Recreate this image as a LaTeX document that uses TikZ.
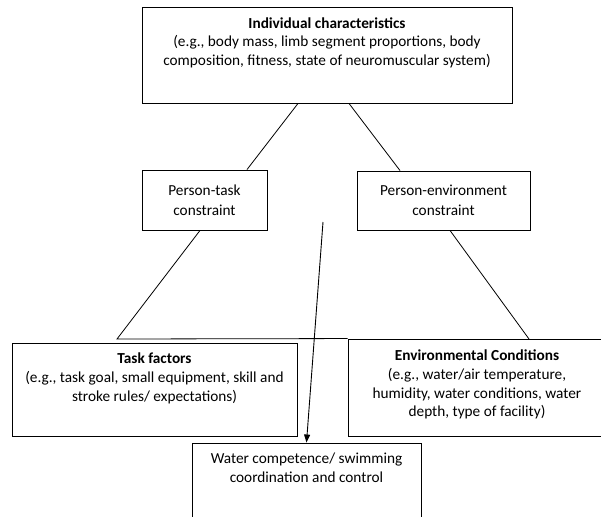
\documentclass[tikz,border=0pt]{standalone}
\usepackage{fontspec}
\setmainfont{Carlito}
\usepackage{tikz}
\usepgflibrary{arrows.meta}
\usetikzlibrary{calc}

\begin{document}
\begin{tikzpicture}[
        x=1pt, y=-1pt,
        box/.style={
                draw,
                line width=0.9pt,
                inner sep=0pt,
                align=center,
                font=\fontsize{15.3}{19.5}\selectfont
            },
        txt/.style={
                anchor=north,
                align=center,
                inner sep=0pt,
                font=\fontsize{15.3}{18.8}\selectfont
            },
        link/.style={
                line width=0.8pt
            },
        dep arrow/.style={
                arrows = {-Triangle[length=8pt,width=6pt]},
                line width=0.9pt
            }]
        \useasboundingbox (0,0) rectangle (601,516);

        % boxes
        \node [box, minimum width=370pt, minimum height=96pt] (indiv) at (327,55) {};
        \node [box, minimum width=125pt, minimum height=60pt] (ptask) at (204.5,200) {Person-task\\constraint};
        \node [box, minimum width=173pt, minimum height=59pt] (penv) at (443.5,200.5) {Person-environment\\constraint};
        \node [box, minimum width=285pt, minimum height=93pt] (task) at (154.5,389.5) {};
        \node [box, minimum width=258pt, minimum height=97pt] (env) at (477,387.5) {};
        \node [box, minimum width=229pt, minimum height=90pt] (water) at (306.5,488) {};

        % texts
        \node [txt] (indivtxt) at ($(indiv.north)+(0,10.5)$) {\textbf{Individual characteristics}\\(e.g., body mass, limb segment proportions, body\\composition, fitness, state of neuromuscular system)};
        \node [txt] (tasktxt) at ($(task.north)+(0,10)$) {\textbf{Task factors}\\(e.g., task goal, small equipment, skill and\\stroke rules/ expectations)};
        \node [txt] (envtxt) at ($(env.north)+(0,11)$) {\textbf{Environmental Conditions}\\(e.g., water/air temperature,\\humidity, water conditions, water\\depth, type of facility)};
        \node [txt] (watertxt) at ($(water.north)+(0,10)$) {Water competence/ swimming\\coordination and control};

        \coordinate (bl) at (117,339);
        \coordinate (br) at (529,339);
        \coordinate (start) at (323,222);

        % triangle of constraints
        \draw [link] ($(indiv.south)+(-29,0)$) -- ($(ptask.north)+(42.5,0)$);
        \draw [link] ($(indiv.south)+(22,0)$) -- ($(penv.north)+(-43.5,0)$);
        \draw [link] ($(ptask.south)+(-4.5,0)$) -- (bl) -- (env.north west);
        \draw [link] ($(penv.south)+(6.5,0)$) -- (br);

        \draw [dep arrow] (start) -- (water.north);
    \end{tikzpicture}
\end{document}
